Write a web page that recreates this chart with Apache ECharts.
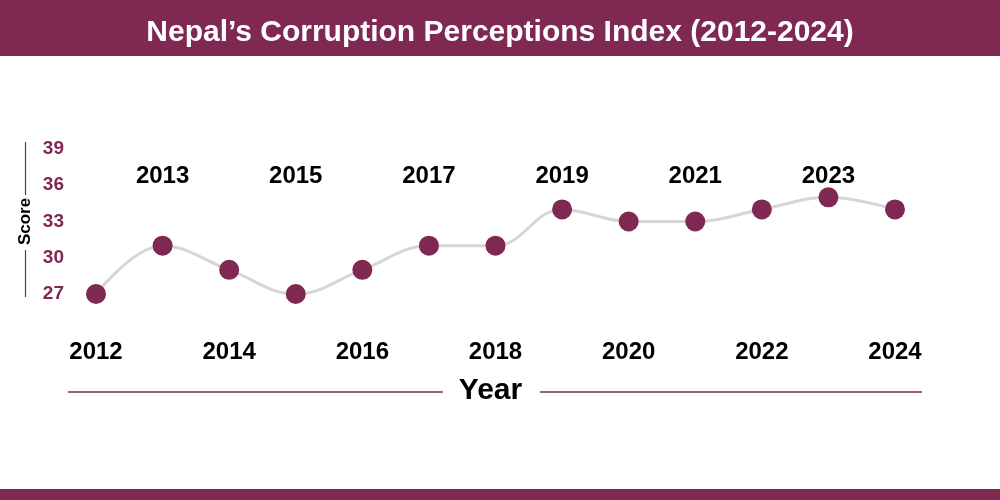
<!DOCTYPE html>
<html><head><meta charset="utf-8">
<script src="https://cdn.jsdelivr.net/npm/echarts@6/dist/echarts.min.js"></script>
<style>html,body{margin:0;padding:0;background:#fff}#c{width:1000px;height:500px}</style>
</head><body><div id="c"></div>
<script>
const years = ['2012','2013','2014','2015','2016','2017','2018','2019','2020','2021','2022','2023','2024'];
const scores = [27,31,29,27,29,31,31,34,33,33,34,35,34];
const yMin = 27, yMax = 39, yStep = 3;
const titleText = 'Nepal’s Corruption Perceptions Index (2012-2024)';
const maroon = '#7E2852';
const font = '"Liberation Sans", Arial, sans-serif';

const chart = echarts.init(document.getElementById('c'));
chart.setOption({
  backgroundColor: '#fff',
  animation: false,
  title: { text: titleText, left: 'center', top: 13,
    textStyle: { color: '#fff', fontSize: 30, fontWeight: 'bold', fontFamily: font } },
  graphic: [
    { type: 'rect', z: -1, shape: { x: 0, y: 0, width: 1000, height: 56 }, style: { fill: maroon } },
    { type: 'rect', z: -1, shape: { x: 0, y: 489, width: 1000, height: 11 }, style: { fill: maroon } },
    { type: 'line', shape: { x1: 68, y1: 392, x2: 443, y2: 392 }, style: { stroke: maroon, lineWidth: 1.5 } },
    { type: 'line', shape: { x1: 540, y1: 392, x2: 922, y2: 392 }, style: { stroke: maroon, lineWidth: 1.5 } },
    { type: 'line', shape: { x1: 25.5, y1: 142, x2: 25.5, y2: 195 }, style: { stroke: maroon, lineWidth: 1.2 } },
    { type: 'line', shape: { x1: 25.5, y1: 250, x2: 25.5, y2: 297 }, style: { stroke: maroon, lineWidth: 1.2 } }
  ],
  grid: { left: 96, right: 105, top: 149, bottom: 206 },
  xAxis: [
    { type: 'category', data: years, boundaryGap: false, position: 'bottom',
      axisLine: { show: false }, axisTick: { show: false }, splitLine: { show: false },
      axisLabel: { interval: (i) => i % 2 === 0, margin: 46, color: '#000', fontSize: 24, fontWeight: 'bold', fontFamily: font },
      name: 'Year', nameLocation: 'middle', nameGap: 82,
      nameTextStyle: { color: '#000', fontSize: 30, fontWeight: 'bold', fontFamily: font, padding: [0, 10, 0, 0] } },
    { type: 'category', data: years, boundaryGap: false, position: 'top',
      axisLine: { show: false }, axisTick: { show: false }, splitLine: { show: false },
      axisLabel: { inside: true, interval: (i) => i % 2 === 1, margin: 15, color: '#000', fontSize: 24, fontWeight: 'bold', fontFamily: font } }
  ],
  yAxis: {
    type: 'value', min: yMin, max: yMax, interval: yStep,
    axisLine: { show: false }, axisTick: { show: false }, splitLine: { show: false },
    axisLabel: { margin: 32, color: maroon, fontSize: 19, fontWeight: 'bold', fontFamily: font },
    name: 'Score', nameLocation: 'middle', nameRotate: 90, nameGap: 62, nameMoveOverlap: false,
    nameTextStyle: { color: '#000', fontSize: 17, fontWeight: 'bold', fontFamily: font }
  },
  series: [{
    type: 'line', data: scores, smooth: 0.4, xAxisIndex: 0,
    symbol: 'circle', symbolSize: 20,
    lineStyle: { color: '#d6d6d6', width: 3 },
    itemStyle: { color: maroon }
  }]
});
</script></body></html>
